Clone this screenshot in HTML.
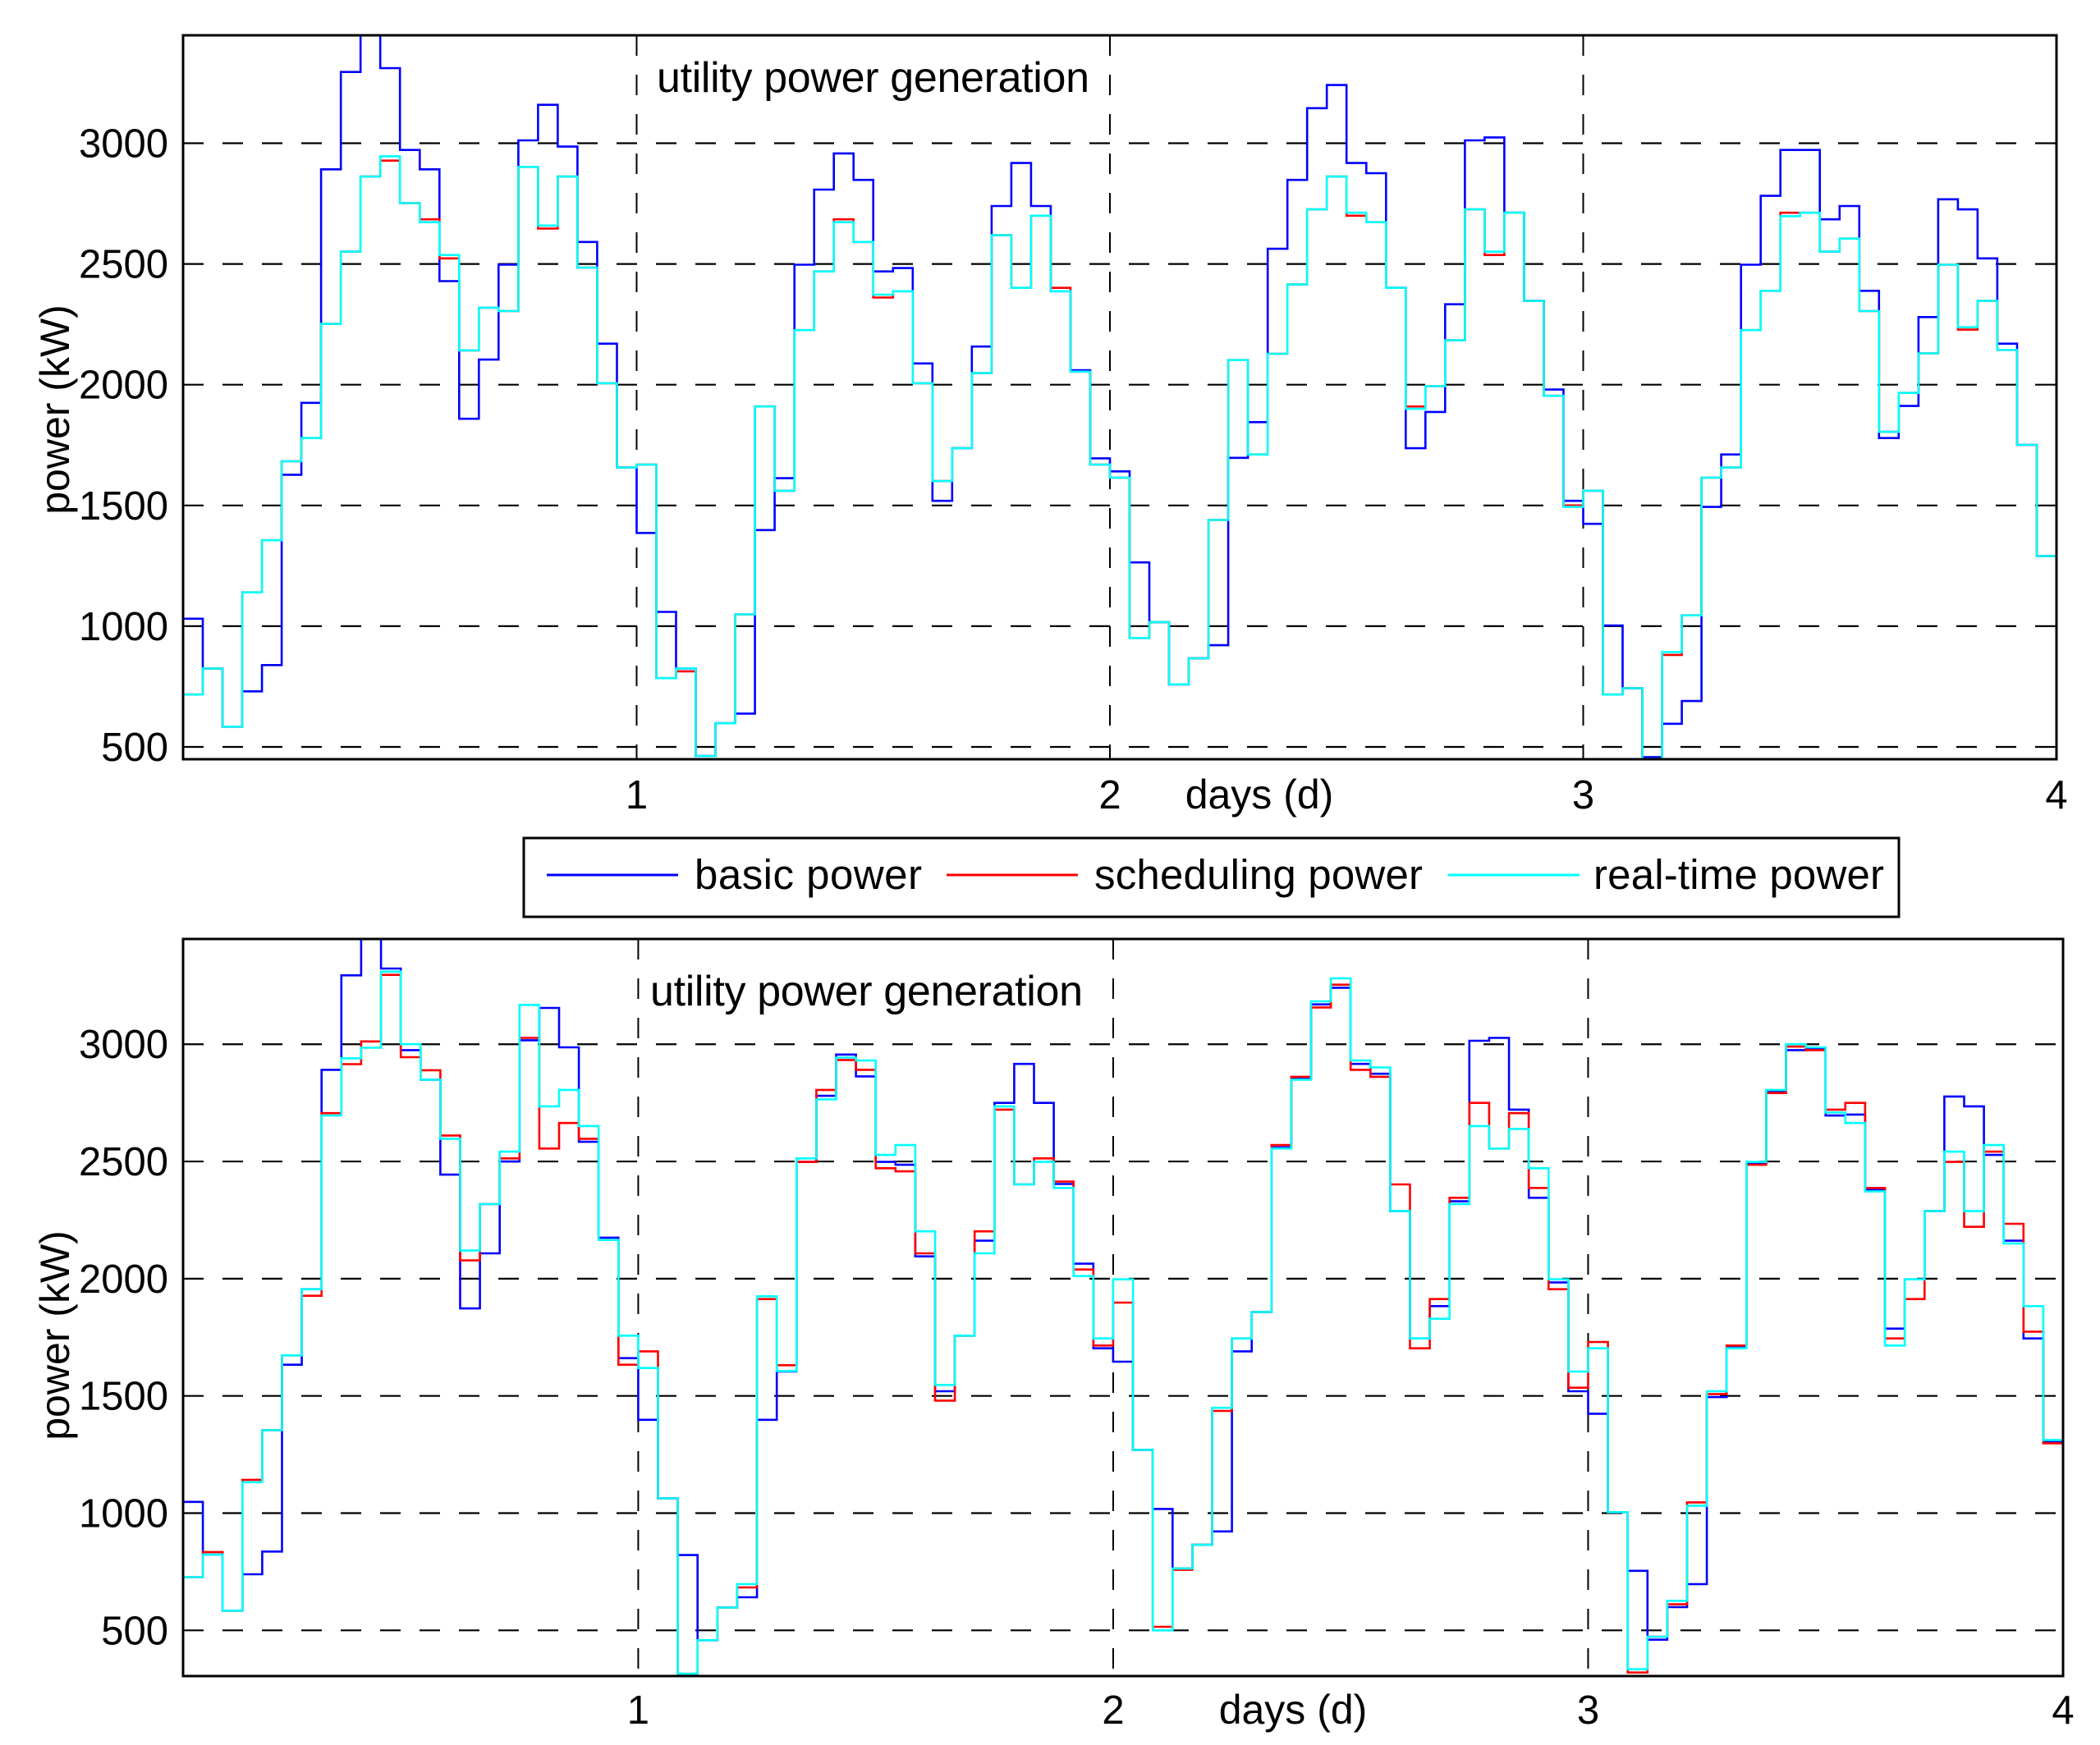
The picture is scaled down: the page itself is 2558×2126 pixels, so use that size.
<!DOCTYPE html>
<html><head><meta charset="utf-8"><title>utility power generation</title>
<style>
html,body{margin:0;padding:0;background:#fff;}
svg{display:block;}
text{font-family:"Liberation Sans",Arial,sans-serif;fill:#000;}
</style></head>
<body>
<svg id="chart" width="2558" height="2126" viewBox="0 0 2558 2126" xmlns="http://www.w3.org/2000/svg">
<defs>
<clipPath id="clipTop"><rect x="223" y="43" width="2282" height="882"/></clipPath>
<clipPath id="clipBot"><rect x="223" y="1144" width="2290" height="898"/></clipPath>
</defs>
<g id="topPanel"></g>
<g id="botPanel"></g>
<g>
<rect x="638" y="1021" width="1675" height="96" fill="#fff" stroke="#000" stroke-width="3"/>
<line x1="666" y1="1066" x2="826" y2="1066" stroke="#0000ff" stroke-width="3"/>
<text x="846" y="1083" font-size="51" textLength="277">basic power</text>
<line x1="1153" y1="1066" x2="1313" y2="1066" stroke="#ff0000" stroke-width="3"/>
<text x="1333" y="1083" font-size="51" textLength="400">scheduling power</text>
<line x1="1764" y1="1066" x2="1924" y2="1066" stroke="#00ffff" stroke-width="3"/>
<text x="1941" y="1083" font-size="51" textLength="354">real-time power</text>
</g>
</svg>
<script>
// hourly steps k = 1..95 (time k/24 .. (k+1)/24 days)
const yTicks = [500, 1000, 1500, 2000, 2500, 3000];
const yTickLabels = ["500", "1000", "1500", "2000", "2500", "3000"];
const xTicks = [1, 2, 3, 4];
const xTickLabels = ["1", "2", "3", "4"];

const topBasic = [1031,825,584,730,839,1627,1925,2892,3295,3500,3311,2972,2892,2429,1859,2104,2497,3012,3159,2986,2591,2170,1657,
1386,1059,825,462,598,638,1398,1613,2497,2808,2958,2848,2469,2483,2088,1519,1737,2158,2740,2918,2740,2387,2060,1695,
1641,1264,1017,759,867,921,1697,1845,2563,2848,3145,3241,2918,2876,2401,1737,1887,2333,3012,3024,2712,2347,1980,1519,
1424,1003,743,458,596,690,1494,1711,2497,2782,2972,2972,2685,2740,2389,1779,1912,2280,2768,2726,2523,2170,1751,1290];
const topSched = [717,825,584,1140,1356,1683,1779,2252,2551,2862,2928,2752,2685,2523,2142,2319,2305,2902,2647,2862,2485,2006,1657,
1669,785,813,462,598,1049,1910,1561,2226,2469,2685,2591,2361,2387,2006,1601,1737,2048,2619,2401,2700,2401,2054,1669,
1615,951,1017,759,867,1440,2102,1711,2128,2415,2726,2862,2700,2673,2401,1910,1994,2184,2726,2537,2712,2347,1954,1500,
1561,717,743,450,881,1045,1615,1657,2226,2389,2712,2712,2551,2605,2305,1805,1966,2130,2497,2228,2347,2144,1751,1290];
const topReal = [717,825,584,1140,1356,1683,1779,2252,2551,2862,2946,2752,2673,2537,2142,2319,2305,2902,2659,2862,2485,2006,1657,
1669,785,825,462,598,1049,1910,1561,2226,2469,2673,2591,2373,2387,2006,1601,1737,2048,2619,2401,2700,2387,2054,1669,
1615,951,1017,759,867,1440,2102,1711,2128,2415,2726,2862,2712,2673,2401,1900,1994,2184,2726,2551,2712,2347,1954,1494,
1561,717,743,450,893,1045,1615,1657,2226,2389,2698,2712,2551,2605,2305,1805,1966,2130,2497,2238,2347,2144,1751,1290];

const botBasic = [1048,823,584,739,836,1633,1955,2891,3294,3480,3323,2975,2849,2444,1873,2108,2500,3017,3155,2987,2584,2175,1661,
1398,1063,821,458,597,641,1398,1604,2498,2780,2956,2863,2498,2486,2095,1520,1757,2162,2750,2916,2750,2404,2064,1703,
1646,1270,1018,764,865,922,1690,1858,2560,2855,3170,3241,2916,2874,2288,1745,1883,2330,3015,3027,2721,2345,1984,1520,
1424,1004,754,460,599,697,1495,1710,2490,2800,2975,2980,2696,2700,2380,1787,1997,2288,2777,2735,2528,2162,1745,1305];
const botSched = [727,834,584,1142,1354,1673,1927,2706,2915,3012,3296,2945,2889,2611,2078,2318,2513,3027,2555,2664,2597,2165,1633,
1690,1063,309,458,597,683,1913,1631,2498,2805,2933,2891,2471,2458,2108,1480,1757,2202,2721,2402,2513,2414,2039,1715,
1898,1270,515,758,865,1436,1745,1858,2570,2861,3157,3254,2891,2861,2402,1703,1913,2345,2750,2555,2706,2387,1955,1535,
1730,1004,320,473,611,1046,1508,1715,2486,2792,2990,2975,2721,2750,2387,1745,1913,2288,2498,2221,2542,2234,1774,1298];
const botReal = [727,823,584,1132,1354,1673,1955,2696,2940,2985,3310,3000,2849,2597,2120,2318,2542,3168,2735,2805,2651,2165,1757,
1619,1063,315,458,597,697,1925,1606,2513,2765,2943,2931,2528,2570,2202,1547,1757,2108,2735,2402,2498,2387,2011,1745,
1997,1270,500,764,865,1449,1745,1858,2555,2849,3183,3281,2931,2901,2288,1745,1829,2318,2651,2555,2639,2471,1997,1604,
1703,1004,334,473,626,1031,1520,1703,2498,2805,3000,2987,2709,2664,2372,1715,1997,2288,2542,2288,2570,2150,1883,1312];

const NS = "http://www.w3.org/2000/svg";
function mk(tag, attrs, parent) {
  const el = document.createElementNS(NS, tag);
  for (const k in attrs) el.setAttribute(k, attrs[k]);
  parent.appendChild(el);
  return el;
}

function drawPanel(g, cfg, series) {
  const x0 = 1 / 24, x1 = 4;
  const sx = t => cfg.left + (t - x0) / (x1 - x0) * (cfg.right - cfg.left);
  const sy = v => cfg.bottom - (v - cfg.ymin) / (cfg.ymax - cfg.ymin) * (cfg.bottom - cfg.top);

  yTicks.forEach((v, i) => {
    const y = sy(v);
    const gl = mk("line", {x1: cfg.left, x2: cfg.right, y1: y, y2: y, stroke: "#000", "stroke-width": 2.2, "stroke-dasharray": "25 23"}, g);
    
    
    const tl = mk("text", {x: 205, y: y + 17, "font-size": 49, "text-anchor": "end"}, g);
    tl.textContent = yTickLabels[i];
    
    
  });
  xTicks.forEach((t, i) => {
    const x = sx(t);
    if (t < 4) {
      const vl = mk("line", {x1: x, x2: x, y1: cfg.top, y2: cfg.bottom, stroke: "#000", "stroke-width": 2, "stroke-dasharray": "25 23"}, g);
      
      
    }
    const xl = mk("text", {x: x, y: cfg.xLabelY, "font-size": 49, "text-anchor": "middle"}, g);
    xl.textContent = xTickLabels[i];
    
    
  });
  const sg = mk("g", {"clip-path": "url(#" + cfg.clip + ")"}, g);
  
  
  series.forEach(s => {
    let d = "";
    s.values.forEach((v, i) => {
      const k = i + 1;
      const xa = sx(k / 24), xb = sx((k + 1) / 24), y = sy(v);
      d += (i === 0 ? "M" + xa.toFixed(1) + "," + y.toFixed(1) : "V" + y.toFixed(1)) + "H" + xb.toFixed(1);
    });
    const p = mk("path", {d: d, fill: "none", stroke: s.color, "stroke-width": 2.6}, sg);
    
    
  });
  const box = mk("rect", {x: cfg.left, y: cfg.top, width: cfg.right - cfg.left, height: cfg.bottom - cfg.top, fill: "none", stroke: "#000", "stroke-width": 3}, g);
  
  
  const tt = mk("text", {x: cfg.titleX, y: cfg.titleY, "font-size": 52, textLength: 527}, g);
  tt.textContent = "utility power generation";
  
  
  const xt = mk("text", {x: cfg.xTitleX, y: cfg.xLabelY, "font-size": 50, "text-anchor": "middle"}, g);
  xt.textContent = "days (d)";
  
  
  const yt = mk("text", {x: 0, y: 0, "font-size": 50, "text-anchor": "middle", transform: "translate(84," + cfg.yTitleY + ") rotate(-90)"}, g);
  yt.textContent = "power (kW)";
  
  
}

drawPanel(document.getElementById("topPanel"),
  {left: 223, right: 2505, top: 43, bottom: 925, ymin: 449, ymax: 3447, clip: "clipTop",
   xLabelY: 985, xTitleX: 1534, titleX: 800, titleY: 112, yTitleY: 499},
  [{name: "top-basic-power-line", color: "#0000ff", values: topBasic},
   {name: "top-scheduling-power-line", color: "#ff0000", values: topSched},
   {name: "top-real-time-power-line", color: "#00ffff", values: topReal}]);

drawPanel(document.getElementById("botPanel"),
  {left: 223, right: 2513, top: 1144, bottom: 2042, ymin: 305, ymax: 3449, clip: "clipBot",
   xLabelY: 2100, xTitleX: 1575, titleX: 792, titleY: 1225, yTitleY: 1627},
  [{name: "bottom-basic-power-line", color: "#0000ff", values: botBasic},
   {name: "bottom-scheduling-power-line", color: "#ff0000", values: botSched},
   {name: "bottom-real-time-power-line", color: "#00ffff", values: botReal}]);
</script>
</body></html>
